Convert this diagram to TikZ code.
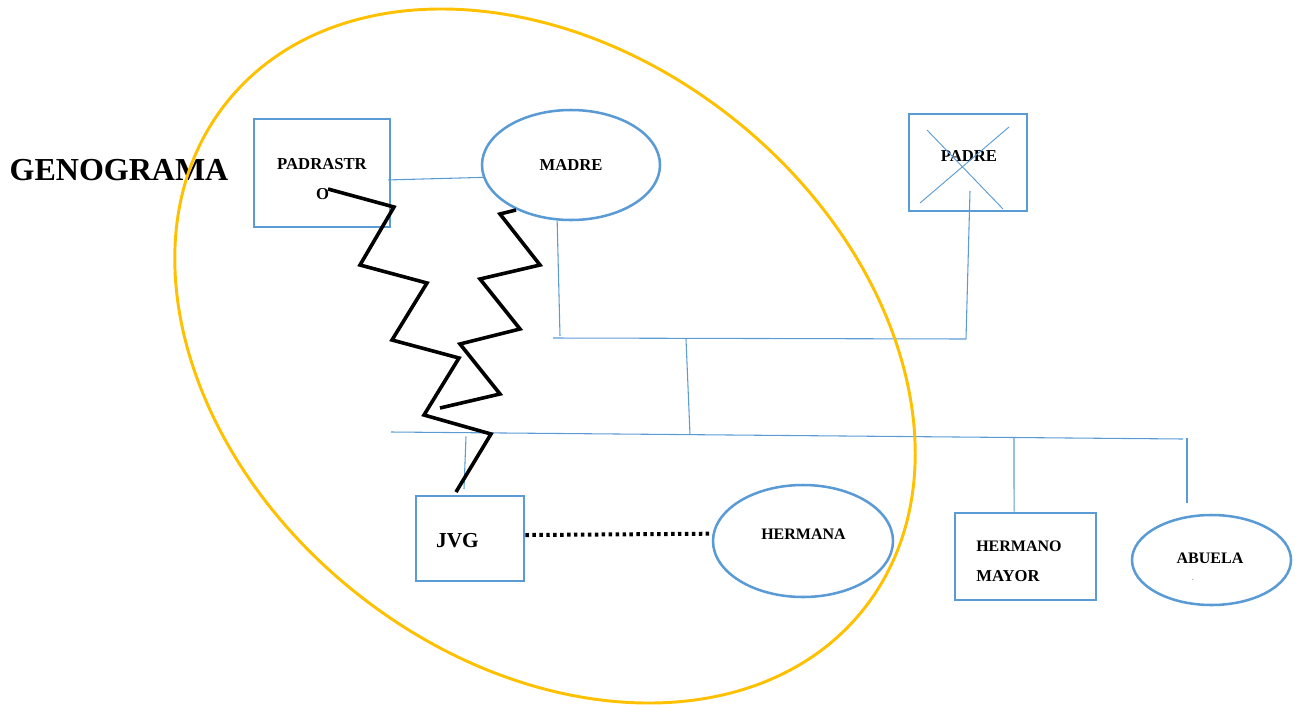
\documentclass[tikz,border=0pt]{standalone}
\usepackage{fontspec}
\setmainfont{Liberation Serif}
\usetikzlibrary{shapes.geometric}
\definecolor{lineBlue}{HTML}{5B9BD5}
\definecolor{circleGold}{HTML}{FFC000}

\begin{document}
\begin{tikzpicture}[x=0.75pt, y=-0.75pt,
		persona/.style={draw=lineBlue, line width=2.2pt, rectangle, inner sep=0pt},
		mujer/.style={draw=lineBlue, line width=1.9pt, ellipse, inner sep=0pt},
		lazo/.style={lineBlue, line width=0.8pt},
		conflicto/.style={black, line width=2.7pt, line join=miter},
		etiqueta/.style={font=\bfseries\fontsize{12.5}{15}\selectfont, inner sep=0pt, anchor=base}]
		
		% --- 1. Canvas ---
		\useasboundingbox (0,0) rectangle (1300,704);
		
		% --- 2. Title ---
		\node[font=\bfseries\fontsize{24}{28}\selectfont, inner sep=0pt, anchor=base] (titulo) at (119,180) {GENOGRAMA};
		
		% --- 3. People ---
		\node[persona, minimum width=102pt, minimum height=81pt] (padrastro) at (322,173) {};
		\node[mujer, minimum width=133.5pt, minimum height=82.5pt] (madre) at (571,165) {};
		\node[persona, minimum width=88.5pt, minimum height=72.75pt] (padre) at (968,162.5) {};
		\node[persona, minimum width=81pt, minimum height=63.75pt] (jvg) at (470,538.5) {};
		\node[mujer, minimum width=135pt, minimum height=84pt] (hermana) at (803,541) {};
		\node[persona, minimum width=105.75pt, minimum height=65.25pt] (hermano) at (1025.5,556.5) {};
		\node[mujer, minimum width=119.25pt, minimum height=67.5pt] (abuela) at (1211.5,560) {};
		
		% Labels
		\node[etiqueta] (padrastroA) at (322,169) {PADRASTR};
		\node[etiqueta] (padrastroB) at (322.5,199) {O};
		\node[etiqueta] (madreT) at (571,170) {MADRE};
		\node[etiqueta] (padreT) at (969,161) {PADRE};
		\node[etiqueta, font=\bfseries\fontsize{16}{19}\selectfont] (jvgT) at (457.5,547) {JVG};
		\node[etiqueta, font=\bfseries\fontsize{12}{14}\selectfont] (hermanaT) at (803.5,539) {HERMANA};
		\node[etiqueta, anchor=base west, font=\bfseries\fontsize{12}{14}\selectfont] (hermanoA) at (976,551) {HERMANO};
		\node[etiqueta, anchor=base west] (hermanoB) at (976,581) {MAYOR};
		\node[etiqueta, font=\bfseries\fontsize{12}{14}\selectfont] (abuelaT) at (1210,563.5) {ABUELA};
		\node[inner sep=0pt, font=\fontsize{5}{6}\selectfont] (abuelaP) at (1193,580) {.};
		
		% Deceased father
		\draw[lazo, line width=0.7pt] (927,130) -- (1003,209);
		\draw[lazo, line width=0.7pt] (1009,127) -- (920,203);
		
		% --- 4. Family lines ---
		\coordinate (padresIzq) at (553,338);
		\coordinate (padresDer) at (966,339);
		\coordinate (madreBaja) at (560,336);
		\coordinate (padreAlto) at (970,191);
		\coordinate (hijosIzq) at (391,432);
		\coordinate (hijosDer) at (1183,439);
		\coordinate (hijosArr) at (686,339);
		\coordinate (hijosAba) at (690,434.6);
		\coordinate (jvgArr) at (466,436.5);
		\coordinate (jvgAba) at (464,489);
		\coordinate (hermanoArr) at (1014,437.5);
		\coordinate (abuelaArr) at (1187,438);
		\coordinate (abuelaAba) at (1187,503);
		
		\draw[lazo] ([xshift=-2.5pt, yshift=-5.2pt]padrastro.east) -- (madre.188);
		\draw[lazo] (madre.256) -- (madreBaja);
		\draw[lazo] (padreAlto) -- (padresDer);
		\draw[lazo] (padresIzq) -- (padresDer);
		\draw[lazo] (hijosArr) -- (hijosAba);
		\draw[lazo] (hijosIzq) -- (hijosDer);
		\draw[lazo] (jvgArr) -- (jvgAba);
		\draw[lazo] (hermanoArr) -- ([xshift=-8.6pt]hermano.north);
		\draw[lazo] (abuelaArr) -- (abuelaAba);
		
		% --- 5. Distant relation ---
		\draw[line width=3pt, dash pattern=on 2.6pt off 2.6pt] (jvg.east) ++(0,2.6pt) -- ([yshift=5.5pt]hermana.west);
		
		% --- 6. Conflict lines ---
		\coordinate (conflictoA) at (328,189);
		\coordinate (conflictoB) at (516,210);
		\draw[conflicto] (conflictoA) -- (394,207) -- (360,265) -- (427,283) -- (392,340)
			-- (459,358) -- (424,415) -- (491,434) -- (456,492);
		\draw[conflicto] (conflictoB) -- (500,214) -- (540,265) -- (480,279) -- (520,329)
			-- (460,344) -- (500,394) -- (440,408);
		
		% --- 7. Household ---
		\draw[circleGold, line width=2.2pt, rotate around={-38.5:(545,356)}] (545,356) ellipse (407 and 303);
		
	\end{tikzpicture}
\end{document}
